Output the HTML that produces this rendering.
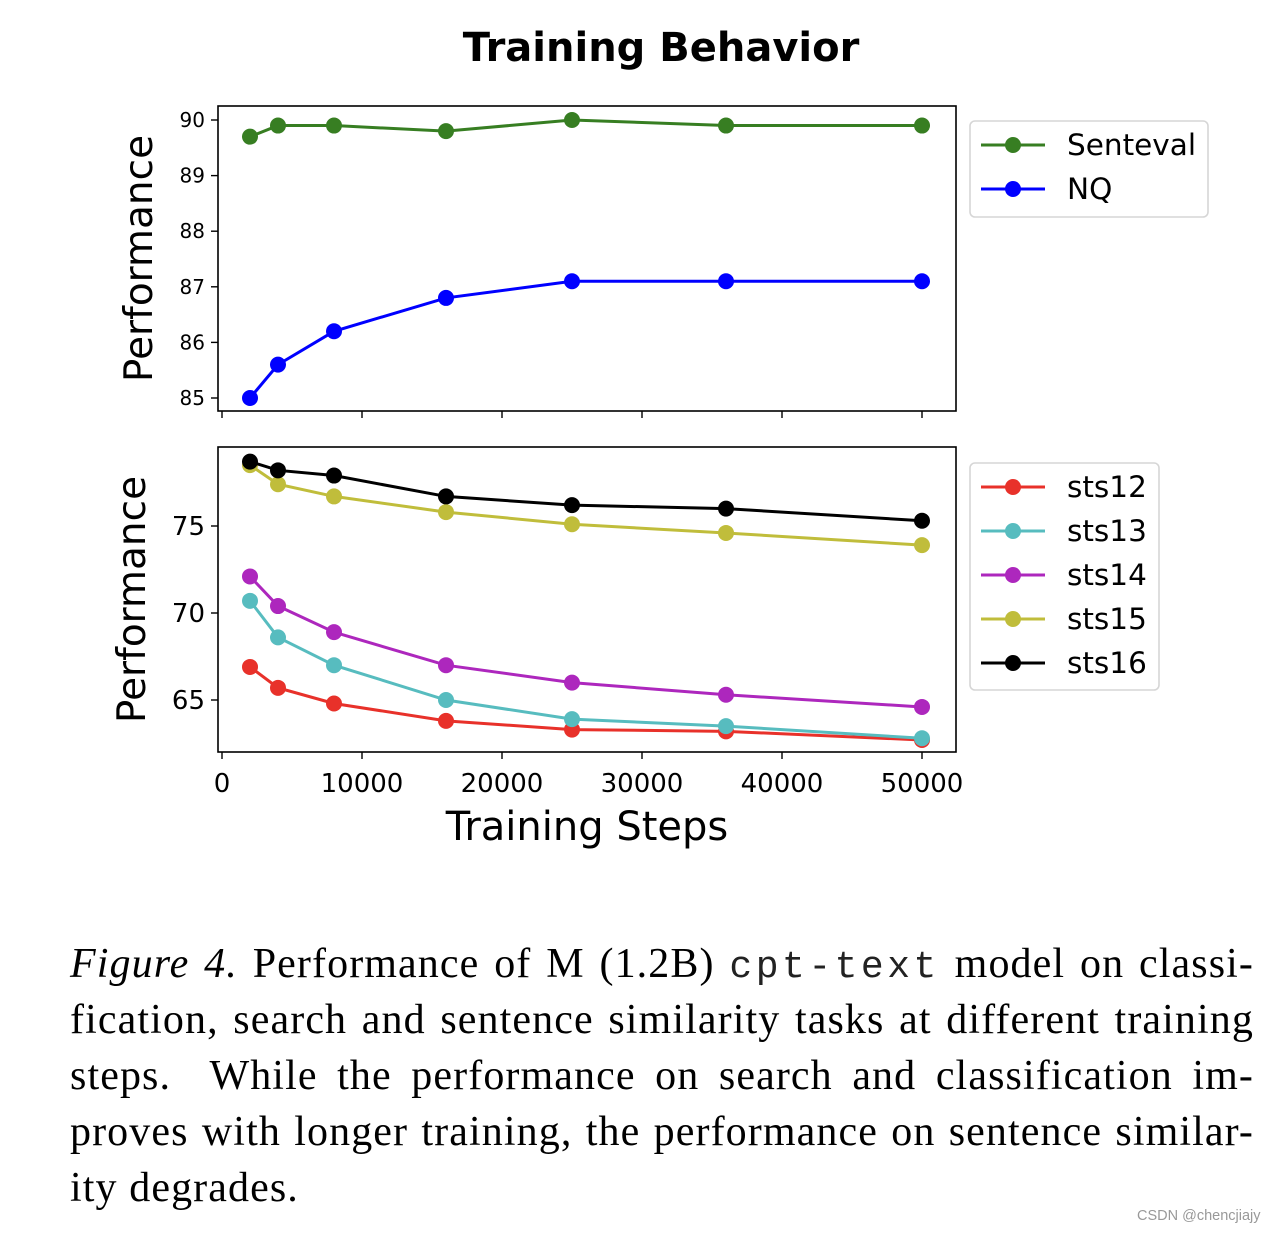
<!DOCTYPE html>
<html><head><meta charset="utf-8"><style>
body{margin:0;width:1282px;height:1234px;background:#fff;position:relative;overflow:hidden}
svg{position:absolute;left:0;top:0}
.cap{position:absolute;left:70px;width:1184px;font-family:"Liberation Serif",serif;font-size:42px;color:#000;text-align:justify;text-align-last:justify;white-space:nowrap;letter-spacing:1.1px}
.mono{font-family:"Liberation Mono",monospace;font-size:38px;letter-spacing:3.5px;color:#222}
</style></head><body>
<svg id="chart" width="1282" height="900" font-family="DejaVu Sans, Liberation Sans, sans-serif"></svg>
<div class="cap" style="top:940px"><i>Figure 4.</i> Performance of M (1.2B) <span class="mono">cpt-text</span> model on classi-</div>
<div class="cap" style="top:996px">fication, search and sentence similarity tasks at different training</div>
<div class="cap" style="top:1052px">steps.&nbsp; While the performance on search and classification im-</div>
<div class="cap" style="top:1108px">proves with longer training, the performance on sentence similar-</div>
<div class="cap" style="top:1164px;text-align-last:left">ity degrades.</div>
<div style="position:absolute;left:1137px;top:1208px;font-family:'Liberation Sans',sans-serif;font-size:14.5px;color:#999">CSDN @chencjiajy</div>
<script>
const steps=[2000,4000,8000,16000,25000,36000,50000];
const senteval=[89.7,89.9,89.9,89.8,90.0,89.9,89.9];
const nq=[85.0,85.6,86.2,86.8,87.1,87.1,87.1];
const sts12=[66.9,65.7,64.8,63.8,63.3,63.2,62.7];
const sts13=[70.7,68.6,67.0,65.0,63.9,63.5,62.8];
const sts14=[72.1,70.4,68.9,67.0,66.0,65.3,64.6];
const sts15=[78.5,77.4,76.7,75.8,75.1,74.6,73.9];
const sts16=[78.7,78.2,77.9,76.7,76.2,76.0,75.3];
const xTicks=[0,10000,20000,30000,40000,50000];
const topTicks=[85,86,87,88,89,90];
const botTicks=[65,70,75];
const NS='http://www.w3.org/2000/svg';
const svg=document.getElementById('chart');
function el(t,a,p){const e=document.createElementNS(NS,t);for(const k in a)e.setAttribute(k,a[k]);(p||svg).appendChild(e);return e;}
const X=v=>222+v*0.014;
const Yt=v=>120+(90-v)*55.6;
const Yb=v=>526-(v-75)*17.4;
let t=el('text',{x:661,y:61,'text-anchor':'middle','font-size':40,'font-weight':'bold'});t.textContent='Training Behavior';


function axes(top,bot,Y,ticks,name,showX){
  const f=el('rect',{x:218,y:top,width:738,height:bot-top,fill:'none',stroke:'#000','stroke-width':1.6});
  
  
  ticks.forEach(v=>{el('line',{x1:211,x2:218,y1:Y(v),y2:Y(v),stroke:'#000','stroke-width':1.4});
    const tx=el('text',{x:205,y:Y(v)+(showX?9:7),'text-anchor':'end','font-size':showX?26:20});tx.textContent=v;
    
    });
  xTicks.forEach(v=>{el('line',{x1:X(v),x2:X(v),y1:bot,y2:bot+7,stroke:'#000','stroke-width':1.4});
    if(showX){const tx=el('text',{x:X(v),y:bot+40,'text-anchor':'middle','font-size':26});tx.textContent=v;
      
      }});
  const yl=el('text',{transform:`translate(${showX?145:152},${(top+bot)/2}) rotate(-90)`,'text-anchor':'middle','font-size':39});yl.textContent='Performance';
  
  
}
axes(106,411,Yt,topTicks,'top-panel',false);
axes(447,752,Yb,botTicks,'bottom-panel',true);
const xl=el('text',{x:587,y:840,'text-anchor':'middle','font-size':40});xl.textContent='Training Steps';


function series(vals,Y,color,name){
  const g=el('g',{});
  
  
  el('polyline',{points:vals.map((v,i)=>X(steps[i])+','+Y(v)).join(' '),fill:'none',stroke:color,'stroke-width':3},g);
  vals.forEach((v,i)=>{const c=el('circle',{cx:X(steps[i]),cy:Y(v),r:8,fill:color},g);
    
    });
}
series(senteval,Yt,'#377e22','senteval');
series(nq,Yt,'#0000ff','nq');
series(sts12,Yb,'#e8312a','sts12');
series(sts13,Yb,'#57bcbf','sts13');
series(sts14,Yb,'#ad27bd','sts14');
series(sts15,Yb,'#c0bd3b','sts15');
series(sts16,Yb,'#000000','sts16');
function legend(x,y,w,h,items,name){
  const r=el('rect',{x:x,y:y,width:w,height:h,rx:5,fill:'#fff',stroke:'#d6d6d6','stroke-width':1.6});
  
  
  items.forEach((it,i)=>{const cy=y+24+i*44;const g=el('g',{});
    
    
    el('line',{x1:x+11,x2:x+75,y1:cy,y2:cy,stroke:it[1],'stroke-width':3},g);
    el('circle',{cx:x+43,cy:cy,r:8,fill:it[1]},g);
    const tx=el('text',{x:x+97,y:cy+10,'font-size':29.5},g);tx.textContent=it[0];});
}
legend(970,121,238,96,[['Senteval','#377e22'],['NQ','#0000ff']],'top-legend');
legend(970,463,189,227,[['sts12','#e8312a'],['sts13','#57bcbf'],['sts14','#ad27bd'],['sts15','#c0bd3b'],['sts16','#000000']],'bottom-legend');
</script>
</body></html>
